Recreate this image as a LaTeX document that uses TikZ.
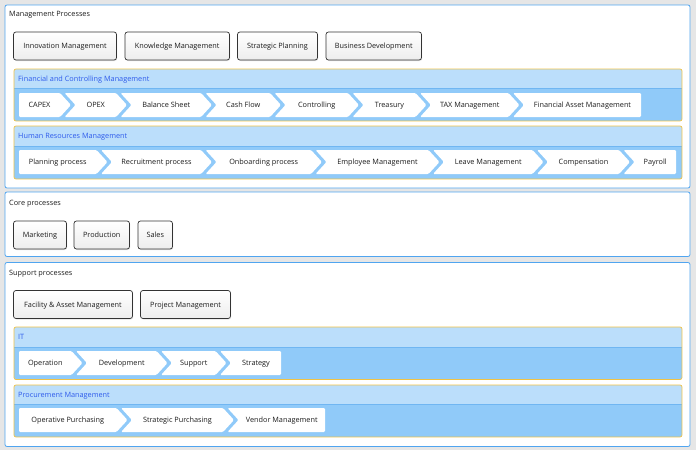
\documentclass[tikz,border=0pt]{standalone}
\usepackage{fontspec}
\setmainfont{Open Sans}
\usetikzlibrary{shadows}
\definecolor{pagebg}{RGB}{230,230,230}
\definecolor{panelline}{RGB}{80,165,240}
\definecolor{headblue}{RGB}{187,222,251}
\definecolor{bodyblue}{RGB}{144,202,249}
\definecolor{splitblue}{RGB}{112,182,242}
\definecolor{goldline}{RGB}{240,195,70}
\definecolor{titleblue}{RGB}{45,90,235}
\definecolor{txt}{RGB}{28,28,28}

\tikzset{
  every node/.style={font=\fontsize{7.3}{9}\selectfont, text=txt, text height=5.3pt, text depth=0pt},
  panel/.style={fill=white, draw=panelline, line width=0.8pt, rounded corners=2pt},
  paneltitle/.style={anchor=west, inner sep=0pt},
  btn/.style={rectangle, rounded corners=2.5pt, draw=black!80, line width=0.7pt,
    top color=white, bottom color=black!7, minimum height=28pt, inner sep=0pt,
    drop shadow={opacity=0.22, shadow xshift=0.7pt, shadow yshift=-1pt}},
  groupframe/.style={draw=goldline, line width=0.7pt, rounded corners=2pt},
  grouptitle/.style={anchor=west, inner sep=0pt, text=titleblue},
  chev/.style={fill=white, rounded corners=1.2pt},
  chevtext/.style={inner sep=0pt}
}

\begin{document}
\begin{tikzpicture}[x=1pt, y=-1pt]
\fill[pagebg] (0,0) rectangle (696,450);
\useasboundingbox (0,0) rectangle (696,450);

% panels
\draw[panel] (5,5) rectangle (690,188);
\draw[panel] (5,192) rectangle (690,256.5);
\draw[panel] (5,262.5) rectangle (690,446.5);
\node[paneltitle] (mgmt) at (9,14) {Management Processes};
\node[paneltitle] (core) at (9,202.5) {Core processes};
\node[paneltitle] (supp) at (9,272.5) {Support processes};

% single process buttons
\node[btn, minimum width=103pt] (innov) at (65,46) {Innovation Management};
\node[btn, minimum width=104.5pt] (know) at (177.25,46) {Knowledge Management};
\node[btn, minimum width=80pt] (strat) at (277.5,46) {Strategic Planning};
\node[btn, minimum width=95.5pt] (busdev) at (373.75,46) {Business Development};
\node[btn, minimum width=53pt] (mkt) at (40,235) {Marketing};
\node[btn, minimum width=55.5pt] (prod) at (101.75,235) {Production};
\node[btn, minimum width=34.5pt] (sales) at (155.25,235) {Sales};
\node[btn, minimum width=119pt] (facil) at (73,304.5) {Facility \& Asset Management};
\node[btn, minimum width=90pt] (projm) at (185.5,304.5) {Project Management};

% process groups
\foreach \t/\s/\b/\ttl [count=\g] in {69/88/121/{Financial and Controlling Management},
    126/146/179/{Human Resources Management}, 327/347/379.5/IT,
    385/404.5/437/{Procurement Management}}{
  \begin{scope}
    \clip[rounded corners=2pt] (14,\t) rectangle (682,\b);
    \fill[headblue] (14,\t) rectangle (682,\s);
    \fill[bodyblue] (14,\s) rectangle (682,\b);
  \end{scope}
  \draw[splitblue, line width=0.6pt] (14,\s) -- (682,\s);
  \draw[groupframe] (14,\t) rectangle (682,\b);
  \node[grouptitle] (grp\g) at (18,{(\t+\s)/2}) {\ttl};
}

% chevrons: left/right/notch/tip/label
\foreach \a/\b/\n/\p/\txt [count=\i] in {19/60/0/11/CAPEX, 64.5/116/11/11/OPEX,
    120.5/201/11/11/Balance Sheet, 205.5/270/11/11/Cash Flow,
    274.5/348/11/11/Controlling, 352.5/415.5/11/11/Treasury,
    420/508.5/11/11/TAX Management, 513/641/11/0/Financial Asset Management}{
  \fill[chev] (\a,93) -- (\b,93) -- ({\b+\p},105) -- (\b,117) -- (\a,117) -- ({\a+\n},105) -- cycle;
  \node[chevtext] (fin\i) at ({(\a+\n+\b)/2},105) {\txt};
}
\foreach \a/\b/\n/\p/\txt [count=\i] in {19/96.5/0/11/Planning process,
    101/201/11/11/Recruitment process, 205.5/311/11/11/Onboarding process,
    315.5/428.5/11/11/Employee Management, 433/532.5/11/11/Leave Management,
    537/619/11/11/Compensation, 623.5/676/11/0/Payroll}{
  \fill[chev] (\a,150) -- (\b,150) -- ({\b+\p},162) -- (\b,174) -- (\a,174) -- ({\a+\n},162) -- cycle;
  \node[chevtext] (hr\i) at ({(\a+\n+\b)/2},162) {\txt};
}
\foreach \a/\b/\n/\p/\txt [count=\i] in {19/71.5/0/11/Operation,
    76/156.5/11/11/Development, 161/215.5/11/11/Support, 220/281/11/0/Strategy}{
  \fill[chev] (\a,351) -- (\b,351) -- ({\b+\p},363) -- (\b,375) -- (\a,375) -- ({\a+\n},363) -- cycle;
  \node[chevtext] (it\i) at ({(\a+\n+\b)/2},363) {\txt};
}
\foreach \a/\b/\n/\p/\txt [count=\i] in {19/116.5/0/11/Operative Purchasing,
    121/223/11/11/Strategic Purchasing, 227.5/325/11/0/Vendor Management}{
  \fill[chev] (\a,408) -- (\b,408) -- ({\b+\p},420) -- (\b,432) -- (\a,432) -- ({\a+\n},420) -- cycle;
  \node[chevtext] (pur\i) at ({(\a+\n+\b)/2},420) {\txt};
}
\end{tikzpicture}
\end{document}
